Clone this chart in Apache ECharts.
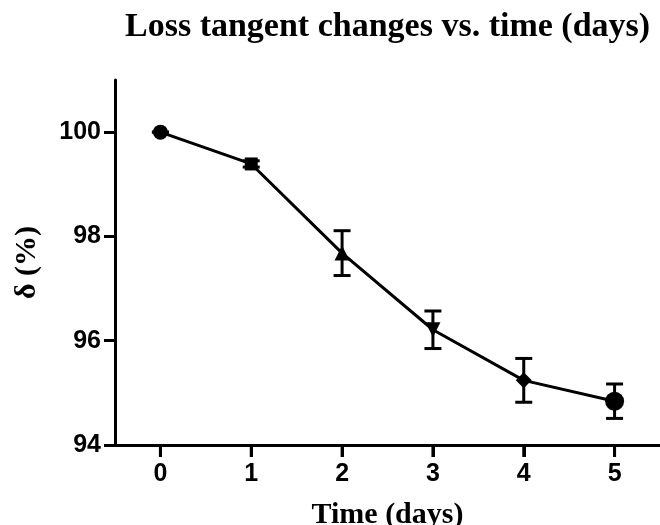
<!DOCTYPE html>
<html><head><meta charset="utf-8">
<script src="https://cdn.jsdelivr.net/npm/echarts@6/dist/echarts.min.js"></script>
<style>html,body{margin:0;padding:0;background:#fff}#c{width:660px;height:525px}</style>
</head><body><div id="c"></div>
<script>
// data
const days = [0, 1, 2, 3, 4, 5];
const delta = [100, 99.39, 97.68, 96.21, 95.24, 94.84];
const sd = [0, 0.06, 0.43, 0.36, 0.42, 0.33];
const yTicks = [94, 96, 98, 100];

// styles
const markerShapes = ['circle', 'rect', 'triangle', 'triangle', 'diamond', 'circle'];
const markerSizes = [15, 13, 15, 15, 16, 19];
const markerRotations = [0, 0, 0, 180, 0, 0];
const tickLen = 12;

const serif = '"Liberation Serif", "Times New Roman", serif';
const sans = '"Liberation Sans", Arial, sans-serif';

const lineData = delta.map((v, i) => ({
  value: [days[i], v],
  symbol: markerShapes[i],
  symbolSize: markerSizes[i],
  symbolRotate: markerRotations[i]
}));
const errData = delta.map((v, i) => [days[i], v - sd[i], v + sd[i]]);
const xMin = -0.5, xMax = 5.5, yMin = 94, yMax = 101;

const chart = echarts.init(document.getElementById('c'), null, {renderer: 'canvas'});
chart.setOption({
  animation: false,
  backgroundColor: '#fff',
  title: {
    text: 'Loss tangent changes vs. time (days)',
    left: 120, top: 5,
    textStyle: {fontFamily: serif, fontWeight: 'bold', fontSize: 34, color: '#000'}
  },
  grid: {left: 115, right: 0, top: 80, bottom: 80, containLabel: false, outerBoundsMode: 'none'},
  xAxis: {
    type: 'value',
    min: xMin, max: xMax,
    name: 'Time (days)',
    nameLocation: 'middle',
    nameGap: 55,
    nameTextStyle: {fontFamily: serif, fontWeight: 'bold', fontSize: 30, color: '#000'},
    axisLine: {show: true, onZero: false, lineStyle: {color: '#000', width: 3}},
    axisTick: {show: true, inside: false, length: tickLen, customValues: days, lineStyle: {color: '#000', width: 3}},
    axisLabel: {customValues: days, fontFamily: sans, fontWeight: 'bold', fontSize: 25, color: '#000', margin: 17},
    splitLine: {show: false}
  },
  yAxis: {
    type: 'value',
    min: yMin, max: yMax,
    name: 'δ (%)',
    nameLocation: 'middle',
    nameGap: 73,
    nameRotate: 90,
    nameTextStyle: {fontFamily: serif, fontWeight: 'bold', fontSize: 30, color: '#000'},
    axisLine: {show: true, onZero: false, lineStyle: {color: '#000', width: 3}},
    axisTick: {show: true, length: 11, customValues: yTicks, lineStyle: {color: '#000', width: 3}},
    axisLabel: {customValues: yTicks, fontFamily: sans, fontWeight: 'bold', fontSize: 25, color: '#000', margin: 14},
    splitLine: {show: false}
  },
  series: [
    {
      // x-axis tick marks, placed through the axis scale
      type: 'custom',
      z: 5,
      clip: false,
      silent: true,
      encode: {x: 0, y: 1},
      data: days.map(d => [d, yMin]),
      renderItem: function (params, api) {
        const p = api.coord([api.value(0), api.value(1)]);
        return {type: 'rect', shape: {x: p[0] - 1.5, y: p[1], width: 3, height: tickLen}, style: {fill: '#000'}};
      }
    },
    {
      type: 'custom',
      z: 1,
      encode: {x: 0, y: [1, 2]},
      data: errData,
      renderItem: function (params, api) {
        const x = api.value(0);
        const lo = api.coord([x, api.value(1)]);
        const hi = api.coord([x, api.value(2)]);
        const hw = 8.5;
        const style = {stroke: '#000', lineWidth: 3};
        return {
          type: 'group',
          children: [
            {type: 'line', shape: {x1: lo[0], y1: lo[1], x2: hi[0], y2: hi[1]}, style},
            {type: 'line', shape: {x1: lo[0] - hw, y1: lo[1], x2: lo[0] + hw, y2: lo[1]}, style},
            {type: 'line', shape: {x1: hi[0] - hw, y1: hi[1], x2: hi[0] + hw, y2: hi[1]}, style}
          ]
        };
      }
    },
    {
      type: 'line',
      z: 2,
      data: lineData,
      lineStyle: {color: '#000', width: 3},
      itemStyle: {color: '#000', borderWidth: 0},
      showAllSymbol: true
    }
  ]
});
</script>
</body></html>
